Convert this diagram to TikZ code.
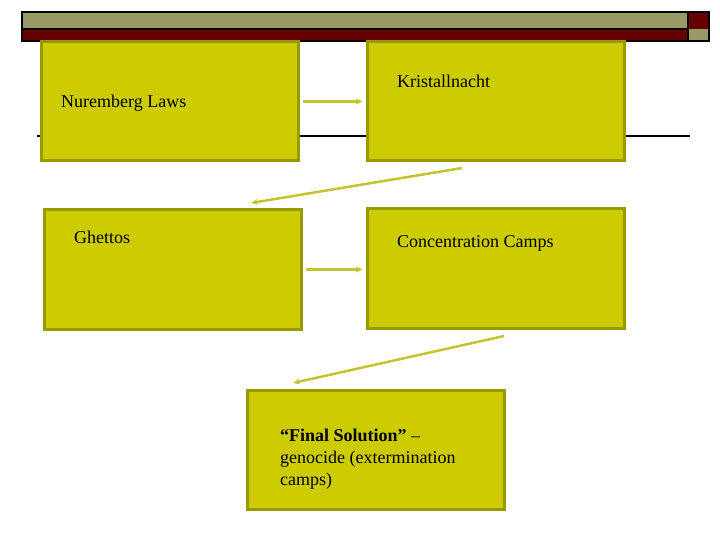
\documentclass[tikz,border=0pt]{standalone}
\usepackage{fontspec}
\setmainfont{Liberation Serif}
\usetikzlibrary{arrows.meta}
\definecolor{boxfill}{RGB}{204,204,0}
\definecolor{boxedge}{RGB}{153,153,0}
\definecolor{arrowc}{RGB}{196,196,50}
\definecolor{barolive}{RGB}{153,153,102}
\definecolor{barred}{RGB}{102,0,0}
\begin{document}
\begin{tikzpicture}[x=1pt,y=-1pt,
  stagebox/.style={draw=boxedge,fill=boxfill,line width=3pt,minimum width=257pt,minimum height=119pt,inner sep=0pt},
  lbl/.style={font=\fontsize{18}{22}\selectfont,inner sep=0pt,anchor=west},
  conn/.style={draw=arrowc,line width=2.5pt,-{Stealth[length=7pt,width=6pt]}}]
\useasboundingbox (0,0) rectangle (720,540);
% top bar
\fill[barolive] (22,12) rectangle (688,29);
\fill[barred] (22,29) rectangle (688,41);
\fill[barred] (688,12) rectangle (709,29);
\fill[barolive] (688,29) rectangle (709,41);
\draw[line width=2pt] (22,12) rectangle (709,41);
\draw[line width=1.5pt] (22,29) -- (688,29);
\draw[line width=1.5pt] (688,12) -- (688,41);
% horizontal rule
\draw[line width=2pt] (37,136) -- (690,136);
% boxes
\node[stagebox] (b1) at (169.5,101.5) {};
\node[stagebox] (b2) at (495.5,101.5) {};
\node[stagebox] (b3) at (172.5,269.5) {};
\node[stagebox] (b4) at (495.5,268.5) {};
\node[stagebox] (b5) at (375.5,450) {};
% labels
\node[lbl] (t1) at (61,103) {Nuremberg Laws};
\node[lbl] (t2) at (397,81) {Kristallnacht};
\node[lbl] (t3) at (74,237) {Ghettos};
\node[lbl] (t4) at (397,243) {Concentration Camps};
\node[lbl,anchor=north west,align=left] (t5) at (280,429) {\textbf{“Final Solution”} –\\genocide (extermination\\camps)};
% connectors
\coordinate (a2s) at (462,168);
\coordinate (a2e) at (251,203);
\coordinate (a4s) at (504,336);
\coordinate (a4e) at (293,383);
\draw[conn,shorten <=3pt,shorten >=3pt] (b1.east) -- (b1.east -| b2.west);
\draw[conn,shorten <=3pt,shorten >=3pt] (b3.east) -- (b3.east -| b4.west);
\draw[conn] (a2s) -- (a2e);
\draw[conn] (a4s) -- (a4e);
\end{tikzpicture}
\end{document}
